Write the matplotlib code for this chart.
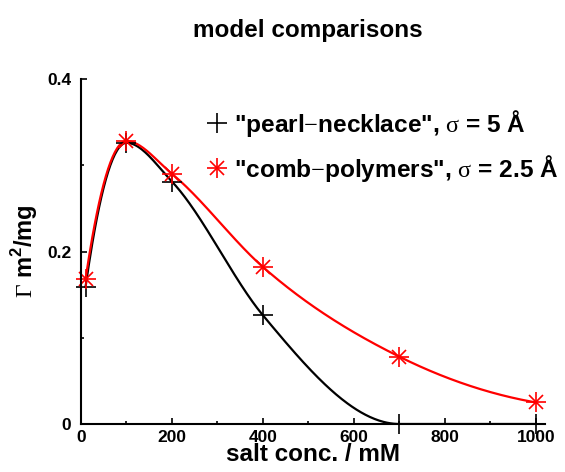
import numpy as np
import matplotlib
matplotlib.use('Agg')
import matplotlib.pyplot as plt
from matplotlib.ticker import MultipleLocator

plt.rcParams['font.family'] = ['Liberation Sans', 'DejaVu Sans']
plt.rcParams['font.weight'] = 'bold'
plt.rcParams['axes.labelweight'] = 'bold'
plt.rcParams['mathtext.fontset'] = 'custom'
plt.rcParams['mathtext.rm'] = 'Liberation Serif:normal'
plt.rcParams['mathtext.bf'] = 'Liberation Sans:bold'

# data
salt = [10, 100, 200, 400, 700, 1000]
pearl = [0.159, 0.326, 0.281, 0.126, 0.0, 0.0]
comb = [0.168, 0.328, 0.290, 0.182, 0.078, 0.025]
xticks = [0, 200, 400, 600, 800, 1000]
yticks = [0, 0.2, 0.4]


def smooth(x, y, n=400):
  # cubic Hermite through the points, three-point slopes, flat at extrema
  x = np.asarray(x, float)
  y = np.asarray(y, float)
  h = np.diff(x)
  d = np.diff(y) / h
  m = np.zeros(len(x))
  for i in range(1, len(x) - 1):
    if d[i - 1] * d[i] > 0:
      m[i] = (h[i] * d[i - 1] + h[i - 1] * d[i]) / (h[i - 1] + h[i])
  m[0] = 2 * d[0] - m[1]
  m[-1] = 2 * d[-1] - m[-2] if d[-1] != 0 else 0
  xs = np.linspace(x[0], x[-1], n)
  idx = np.clip(np.searchsorted(x, xs) - 1, 0, len(x) - 2)
  hh = h[idx]
  t = (xs - x[idx]) / hh
  h00 = 2 * t**3 - 3 * t**2 + 1
  h10 = t**3 - 2 * t**2 + t
  h01 = -2 * t**3 + 3 * t**2
  h11 = t**3 - t**2
  ys = h00 * y[idx] + h10 * hh * m[idx] + h01 * y[idx + 1] + h11 * hh * m[idx + 1]
  return xs, ys


fig = plt.figure(figsize=(5.65, 4.72), dpi=100)
ax = fig.add_axes([81 / 565, 1 - 424 / 472, 464 / 565, 345 / 472])

xs, ys = smooth(salt, pearl)
ax.plot(xs, ys, color='black', lw=1.6)
xs, ys = smooth(salt, comb)
ax.plot(xs, ys, color='red', lw=1.6)

hp, = ax.plot(salt, pearl, ls='none', marker='+', ms=14, mew=1.2, color='black', clip_on=False)
hc1, = ax.plot(salt, comb, ls='none', marker='+', ms=14, mew=1.2, color='red', clip_on=False)
hc2, = ax.plot(salt, comb, ls='none', marker='x', ms=10, mew=1.2, color='red', clip_on=False)

ax.set_xlim(0, 1020)
ax.set_ylim(0, 0.4)
ax.set_xticks(xticks)
ax.set_yticks(yticks)
ax.set_xticklabels([str(t) for t in xticks], fontweight='bold')
ax.set_yticklabels(['0', '0.2', '0.4'], fontweight='bold')
ax.xaxis.set_minor_locator(MultipleLocator(100))
ax.yaxis.set_minor_locator(MultipleLocator(0.1))
ax.tick_params(which='both', direction='in', width=1.2, labelsize=12.5, pad=4)
ax.tick_params(axis='y', pad=7)
ax.tick_params(which='major', length=4)
ax.tick_params(which='minor', length=2.5)
for s in ['top', 'right']:
  ax.spines[s].set_visible(False)
for s in ['left', 'bottom']:
  ax.spines[s].set_linewidth(1.5)

ax.set_xlabel('salt conc. / mM', fontsize=17.5, labelpad=-1)
ax.set_ylabel(r'$\mathrm{\Gamma}$ m$^\mathbf{2}$/mg', fontsize=17, labelpad=5)
fig.text(308 / 565, 1 - 30 / 472, 'model comparisons', fontsize=17.5, ha='center', va='center')

ax.legend([hp, (hc1, hc2)],
  [r'"pearl$-$necklace", $\mathrm{\sigma}$ = 5 Å', r'"comb$-$polymers", $\mathrm{\sigma}$ = 2.5 Å'],
  loc='upper left', bbox_to_anchor=(0.252, 0.945), frameon=False, fontsize=17.6,
  handlelength=0.8, handletextpad=0.28, labelspacing=0.58, borderaxespad=0)

fig.savefig('out.png', dpi=100)
